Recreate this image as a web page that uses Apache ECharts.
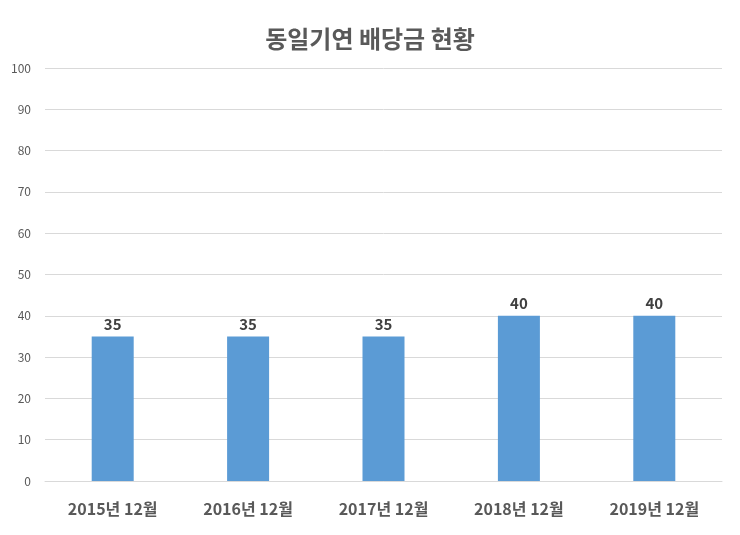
<!DOCTYPE html>
<html>
<head>
<meta charset="utf-8">
<script src="https://cdn.jsdelivr.net/npm/echarts@6/dist/echarts.min.js"></script>
<style>
  html, body { margin: 0; padding: 0; background: #fff; }
  #main { width: 740px; height: 535px; }
</style>
</head>
<body>
<div id="main"></div>
<script>
// data
var categories = ['2015년 12월', '2016년 12월', '2017년 12월', '2018년 12월', '2019년 12월'];
var dividends = [35, 35, 35, 40, 40];

var chart = echarts.init(document.getElementById('main'));

var option = {
    animation: false,
    textStyle: {
        fontFamily: '"Noto Sans CJK KR", "Noto Sans", sans-serif'
    },
    title: {
        text: '동일기연 배당금 현황',
        left: 'center',
        top: 22,
        textStyle: {
            fontSize: 24,
            fontWeight: 'bold',
            color: '#595959'
        }
    },
    grid: {
        left: 45,
        right: 18,
        top: 68,
        bottom: 54
    },
    xAxis: {
        type: 'category',
        data: categories,
        axisLine: { lineStyle: { color: '#d9d9d9' } },
        axisTick: { show: false },
        axisLabel: {
            margin: 20,
            fontSize: 16,
            fontWeight: 'bold',
            color: '#595959'
        }
    },
    yAxis: {
        type: 'value',
        min: 0,
        max: 100,
        interval: 10,
        axisLine: { show: false },
        axisTick: { show: false },
        axisLabel: {
            margin: 14,
            fontSize: 12,
            color: '#595959'
        },
        splitLine: { lineStyle: { color: '#d9d9d9' } }
    },
    series: [
        {
            type: 'bar',
            data: dividends,
            barWidth: 42,
            itemStyle: { color: '#5b9bd5' },
            label: {
                show: true,
                position: 'top',
                fontSize: 15,
                fontWeight: 'bold',
                color: '#404040'
            }
        }
    ]
};

chart.setOption(option);
</script>
</body>
</html>
